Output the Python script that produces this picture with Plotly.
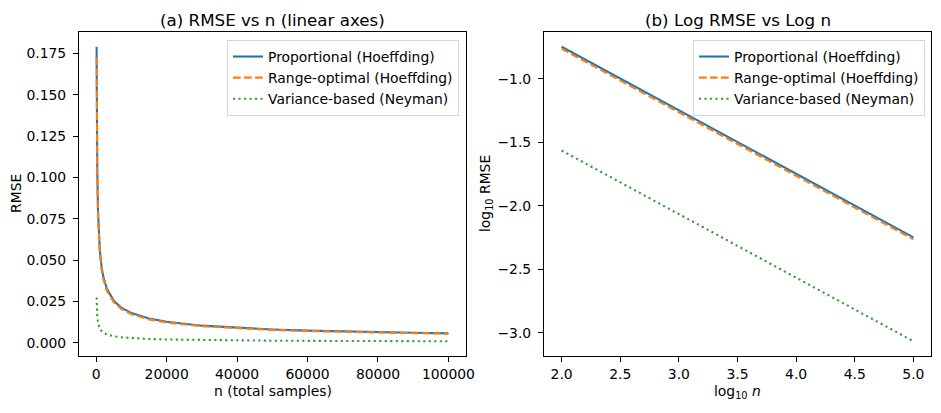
import numpy as np
import plotly.graph_objects as go

# ---- data ----
n_total = [100, 150, 200, 300, 500, 700, 1000, 1500, 2000, 3000, 5000, 7000,
           10000, 15000, 20000, 30000, 40000, 50000, 60000, 70000, 80000, 90000, 100000]
rmse_proportional = [0.179, 0.1462, 0.1266, 0.1033, 0.0801, 0.0677, 0.0566, 0.0462,
                     0.0400, 0.0327, 0.0253, 0.0214, 0.0179, 0.0146, 0.0127, 0.0103,
                     0.00895, 0.0080, 0.00731, 0.00677, 0.00633, 0.00597, 0.00566]
rmse_range_optimal = [0.1726, 0.1409, 0.1220, 0.0996, 0.0772, 0.0652, 0.0546, 0.0446,
                      0.0386, 0.0315, 0.0244, 0.0206, 0.01726, 0.0141, 0.0122, 0.00997,
                      0.00863, 0.00772, 0.00705, 0.00652, 0.00610, 0.00575, 0.00546]
rmse_variance = [0.0273, 0.0223, 0.0193, 0.01576, 0.01221, 0.01032, 0.00863, 0.00705,
                 0.00610, 0.00498, 0.00386, 0.00326, 0.00273, 0.00223, 0.00193, 0.00158,
                 0.00137, 0.00122, 0.00111, 0.00103, 0.00097, 0.00091, 0.00086]

series_names = ["Proportional (Hoeffding)", "Range-optimal (Hoeffding)", "Variance-based (Neyman)"]
left_x_ticks = [0, 20000, 40000, 60000, 80000, 100000]
left_y_ticks = [0.000, 0.025, 0.050, 0.075, 0.100, 0.125, 0.150, 0.175]
right_x_ticks = [2.0, 2.5, 3.0, 3.5, 4.0, 4.5, 5.0]
right_y_ticks = [-3.0, -2.5, -2.0, -1.5, -1.0]

# page has an 8px body margin; size the figure so it fits the 941x413 window
OFF = 8
W, H = 941 - 2 * OFF, 413 - 2 * OFF
FONT = "DejaVu Sans"
colors = ["#1f77b4", "#ff7f0e", "#2ca02c"]
dashes = ["solid", "7.7px,3.3px", "2.1px,3.4px"]
series = [rmse_proportional, rmse_range_optimal, rmse_variance]

fig = go.Figure()
log_n = np.log10(n_total)
for i, vals in enumerate(series):
    fig.add_trace(go.Scatter(x=n_total, y=vals, mode="lines", name=series_names[i],
                             line=dict(color=colors[i], width=2.08, dash=dashes[i]),
                             xaxis="x", yaxis="y", legend="legend"))
for i, vals in enumerate(series):
    fig.add_trace(go.Scatter(x=log_n, y=np.log10(vals), mode="lines", name=series_names[i],
                             line=dict(color=colors[i], width=2.08, dash=dashes[i]),
                             xaxis="x2", yaxis="y2", legend="legend2"))

def px_x(p):
    return (p - OFF) / W

def px_y(p):
    return 1 - (p - OFF) / H

L1, R1, L2, R2, T, B = 79, 466, 544, 931, 32, 356

axis_common = dict(showline=True, mirror=True, linecolor="black", linewidth=1.1,
                   ticks="outside", ticklen=5, tickwidth=1.1, tickcolor="black",
                   showgrid=False, zeroline=False, automargin=False,
                   tickfont=dict(family=FONT, size=13.9, color="black"))
x_common = dict(**axis_common)
y_common = dict(ticklabelstandoff=4, **axis_common)

def pad_range(lo, hi):
    d = (hi - lo) * 0.05
    return [lo - d, hi + d]

all_left = rmse_proportional + rmse_range_optimal + rmse_variance
log_all = np.log10(all_left)

legend_common = dict(xanchor="right", yanchor="top",
                     bgcolor="rgba(255,255,255,0.8)", bordercolor="#d6d6d6", borderwidth=1,
                     tracegroupgap=0,
                     font=dict(family=FONT, size=13.9, color="black"))

fig.update_layout(
    width=W, height=H,
    margin=dict(l=0, r=0, t=0, b=0),
    paper_bgcolor="white", plot_bgcolor="white",
    font=dict(family=FONT, size=13.9, color="black"),
    xaxis=dict(domain=[px_x(L1), px_x(R1)], anchor="y",
               range=pad_range(min(n_total), max(n_total)),
               tickvals=left_x_ticks, tickformat="d", **x_common),
    yaxis=dict(domain=[px_y(B), px_y(T)], anchor="x",
               range=pad_range(min(all_left), max(all_left)),
               tickvals=left_y_ticks, tickformat=".3f", **y_common),
    xaxis2=dict(domain=[px_x(L2), px_x(R2)], anchor="y2",
                range=pad_range(float(log_n.min()), float(log_n.max())),
                tickvals=right_x_ticks, tickformat=".1f", **x_common),
    yaxis2=dict(domain=[px_y(B), px_y(T)], anchor="x2",
                range=pad_range(float(log_all.min()), float(log_all.max())),
                tickvals=right_y_ticks, tickformat=".1f", **y_common),
    legend=dict(x=px_x(459), y=px_y(40), **legend_common),
    legend2=dict(x=px_x(925), y=px_y(40), **legend_common),
)

ann = [
    dict(text="(a) RMSE vs n (linear axes)", x=px_x((L1 + R1) / 2), y=px_y(20), size=16.7),
    dict(text="(b) Log RMSE vs Log n", x=px_x((L2 + R2) / 2), y=px_y(20), size=16.7),
    dict(text="n (total samples)", x=px_x((L1 + R1) / 2), y=px_y(391), size=13.9),
    dict(text="log<sub>10</sub> <i>n</i>", x=px_x((L2 + R2) / 2), y=px_y(392), size=13.9),
    dict(text="RMSE", x=px_x(16), y=px_y(194), size=13.9, angle=-90),
    dict(text="log<sub>10</sub> RMSE", x=px_x(486), y=px_y(194), size=13.9, angle=-90),
]
for a in ann:
    fig.add_annotation(xref="paper", yref="paper", showarrow=False,
                       xanchor="center", yanchor="middle",
                       text=a["text"], x=a["x"], y=a["y"],
                       textangle=a.get("angle", 0),
                       font=dict(family=FONT, size=a["size"], color="black"))

fig.write_html("out.html")
